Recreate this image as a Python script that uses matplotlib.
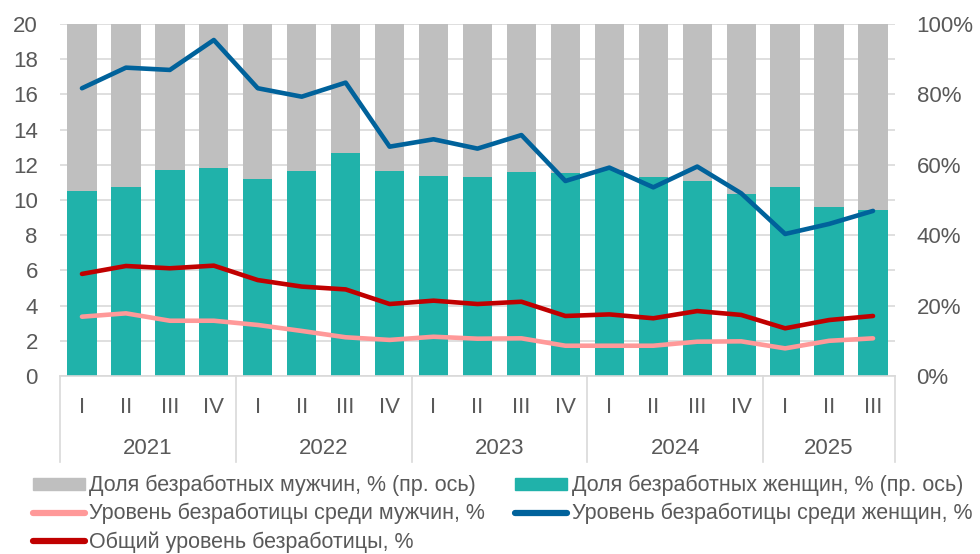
import numpy as np
import matplotlib
matplotlib.use('Agg')
import matplotlib.pyplot as plt
import matplotlib.transforms as mtrans
from matplotlib.patches import Patch
from matplotlib.lines import Line2D

plt.rcParams['font.family'] = ['Liberation Sans', 'DejaVu Sans']

# data
years = ['2021', '2022', '2023', '2024', '2025']
quarters_per_year = [4, 4, 4, 4, 3]
quarter_names = ['I', 'II', 'III', 'IV']
quarters = [q for n in quarters_per_year for q in quarter_names[:n]]

# share of women among unemployed, % (right axis); men = 100 - women
women_share = [52.6, 53.7, 58.5, 59.1, 56.0, 58.2, 63.4, 58.2, 56.7, 56.4,
               58.0, 57.6, 58.5, 56.5, 55.5, 51.7, 53.7, 48.1, 47.2]
men_share = [100 - v for v in women_share]

# unemployment rates, % (left axis)
rate_women = [16.35, 17.52, 17.39, 19.09, 16.35, 15.87, 16.67, 13.03, 13.45, 12.92,
              13.69, 11.08, 11.84, 10.72, 11.90, 10.38, 8.07, 8.64, 9.38]
rate_total = [5.8, 6.25, 6.12, 6.27, 5.45, 5.08, 4.92, 4.09, 4.28, 4.09,
              4.22, 3.41, 3.5, 3.28, 3.69, 3.47, 2.71, 3.18, 3.41]
rate_men = [3.37, 3.56, 3.14, 3.14, 2.9, 2.56, 2.2, 2.05, 2.23, 2.12,
            2.14, 1.72, 1.72, 1.72, 1.95, 1.97, 1.57, 2.0, 2.14]

c_grey = '#BFBFBF'
c_teal = '#20B2AA'
c_pink = '#FF9999'
c_blue = '#00629B'
c_red = '#C00000'
c_text = '#595959'
c_grid = '#D9D9D9'

fig = plt.figure(figsize=(9.8, 5.54), dpi=100)
W, H = 980, 554
x0, x1, ytop, ybot = 60, 895, 24, 376
axb = fig.add_axes([x0 / W, (H - ybot) / H, (x1 - x0) / W, (ybot - ytop) / H])
axl = axb.twinx()

x = np.arange(len(quarters))
bw = 0.667
axb.bar(x, women_share, bw, color=c_teal, zorder=2)
axb.bar(x, men_share, bw, bottom=women_share, color=c_grey, zorder=2)
axb.set_ylim(0, 100)
axb.set_xlim(-0.5, len(quarters) - 0.5)
axb.yaxis.tick_right()
axb.set_yticks(range(0, 101, 20))
axb.set_yticklabels([f'{v}%' for v in range(0, 101, 20)])
axb.set_yticks(range(10, 100, 20), minor=True)
axb.grid(axis='y', which='both', color=c_grid, lw=1.2, zorder=0)
axb.set_axisbelow(True)
axb.tick_params(axis='y', which='both', length=0, pad=15.5, labelsize=16, labelcolor=c_text)
for s in ['top', 'left', 'right']:
    axb.spines[s].set_visible(False)
axb.spines['bottom'].set_color(c_grid)
axb.spines['bottom'].set_linewidth(1.2)

axb.set_xticks(x)
axb.set_xticklabels(quarters)
axb.tick_params(axis='x', length=0, pad=15, labelsize=16, labelcolor=c_text)

axl.yaxis.tick_left()
axl.set_ylim(0, 20)
axl.set_yticks(range(0, 21, 2))
axl.tick_params(axis='y', length=0, pad=16, labelsize=16, labelcolor=c_text)
for s in axl.spines.values():
    s.set_visible(False)
lkw = dict(lw=3.3, solid_capstyle='round', solid_joinstyle='round', zorder=3)
axl.plot(x, rate_men, color=c_pink, **lkw)
axl.plot(x, rate_total, color=c_red, **lkw)
axl.plot(x, rate_women, color=c_blue, **lkw)

# year groups under the quarter labels
trans = mtrans.blended_transform_factory(axb.transData, axb.transAxes)
edges = np.concatenate([[0], np.cumsum(quarters_per_year)]) - 0.5
for e in edges:
    axb.plot([e, e], [0, -0.245], transform=trans, color=c_grid, lw=1.2, clip_on=False)
for i, yr in enumerate(years):
    axb.text((edges[i] + edges[i + 1]) / 2, -0.205, yr, transform=trans,
             ha='center', va='center', fontsize=16, color=c_text)

handles = [Patch(color=c_grey), Line2D([], [], color=c_pink, lw=4.5, solid_capstyle='round'),
           Line2D([], [], color=c_red, lw=4.5, solid_capstyle='round'),
           Patch(color=c_teal), Line2D([], [], color=c_blue, lw=4.5, solid_capstyle='round')]
labels = ['Доля безработных мужчин, % (пр. ось)', 'Уровень безработицы среди мужчин, %',
          'Общий уровень безработицы, %', 'Доля безработных женщин, % (пр. ось)',
          'Уровень безработицы среди женщин, %']
fig.legend(handles, labels, ncol=2, loc='upper left', bbox_to_anchor=(33 / W, (H - 475) / H),
           frameon=False, fontsize=15.5, labelcolor=c_text, handlelength=2.4, handleheight=0.5,
           handletextpad=0.22, columnspacing=1.4, labelspacing=0.32, borderpad=0, borderaxespad=0)

fig.savefig('out.png', dpi=100)
